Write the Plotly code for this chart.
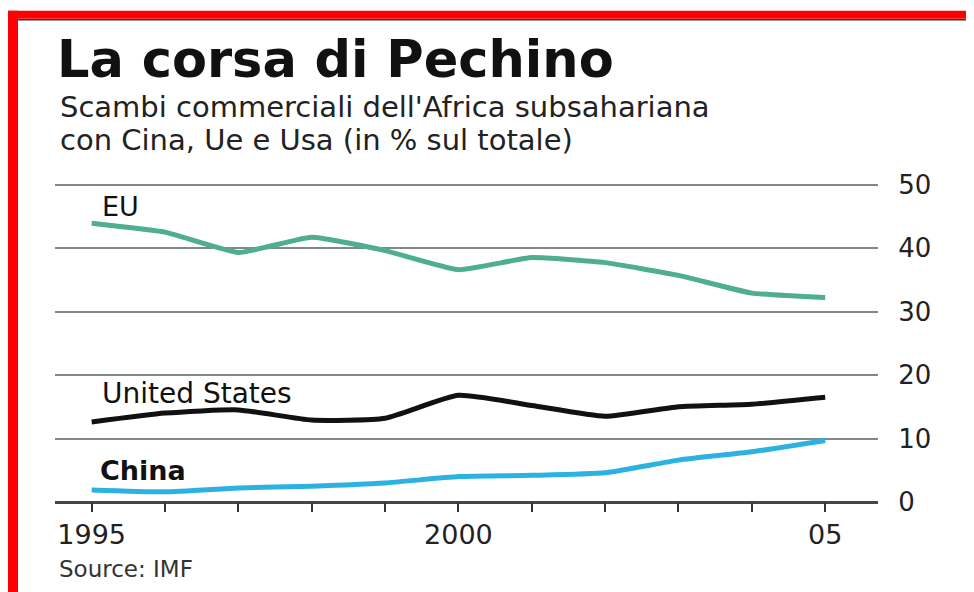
import plotly.graph_objects as go

years = [1995, 1996, 1997, 1998, 1999, 2000, 2001, 2002, 2003, 2004, 2005]
eu = [43.9, 42.5, 39.3, 41.7, 39.6, 36.6, 38.5, 37.7, 35.7, 32.9, 32.2]
usa = [12.6, 14.0, 14.5, 12.9, 13.2, 16.8, 15.2, 13.5, 15.0, 15.4, 16.5]
china = [1.9, 1.6, 2.2, 2.5, 3.0, 4.0, 4.2, 4.6, 6.6, 7.9, 9.7]
x_ticktext = ["1995", "", "", "", "", "2000", "", "", "", "", "05"]
y_ticks = [0, 10, 20, 30, 40, 50]

OFF = 8  # page body margin
W, H = 974 - OFF, 592 - OFF
# plot area in screen pixels
SL, SR, ST, SB = 55, 878, 181.5, 502
L, R, T, B = SL - OFF, SR - OFF, ST - OFF, SB - OFF

def px(x):
    return (x - OFF - L) / (R - L)

def py(y):
    return (B - (y - OFF)) / (B - T)

fig = go.Figure()
fig.add_trace(go.Scatter(x=years, y=eu, mode="lines",
                         line=dict(color="#4fae8e", width=5, shape="spline", smoothing=0.4),
                         hoverinfo="skip"))
fig.add_trace(go.Scatter(x=years, y=usa, mode="lines",
                         line=dict(color="#111111", width=5, shape="spline", smoothing=0.5),
                         hoverinfo="skip"))
fig.add_trace(go.Scatter(x=years, y=china, mode="lines",
                         line=dict(color="#2cb2e2", width=5, shape="spline", smoothing=0.5),
                         hoverinfo="skip"))

shapes = [
    dict(type="rect", xref="paper", yref="paper", x0=px(0), x1=px(990), y0=py(18), y1=py(10),
         fillcolor="#ff0000", line=dict(width=0), layer="above"),
    dict(type="line", xref="paper", yref="paper", x0=px(18), x1=px(990), y0=py(19), y1=py(19),
         line=dict(color="#333333", width=1.5), layer="above"),
    dict(type="rect", xref="paper", yref="paper", x0=px(0), x1=px(18), y0=py(600), y1=py(10),
         fillcolor="#ff0000", line=dict(width=0), layer="above"),
]

annotations = [
    dict(text="<b>La corsa di Pechino</b>", xref="paper", yref="paper", x=px(55), y=py(59),
         xanchor="left", yanchor="middle", showarrow=False,
         font=dict(family="DejaVu Sans", size=51, color="#111111")),
    dict(text="Scambi commerciali dell'Africa subsahariana", xref="paper", yref="paper",
         x=px(58), y=py(106), xanchor="left", yanchor="middle", showarrow=False,
         font=dict(family="DejaVu Sans", size=29, color="#222222")),
    dict(text="con Cina, Ue e Usa (in % sul totale)", xref="paper", yref="paper",
         x=px(58), y=py(139), xanchor="left", yanchor="middle", showarrow=False,
         font=dict(family="DejaVu Sans", size=29, color="#222222")),
    dict(text="EU", x=1995.11, y=46.5, xanchor="left", yanchor="middle", showarrow=False,
         font=dict(family="DejaVu Sans", size=27, color="#111111")),
    dict(text="United States", x=1995.11, y=17.1, xanchor="left", yanchor="middle", showarrow=False,
         font=dict(family="DejaVu Sans", size=28, color="#111111")),
    dict(text="<b>China</b>", x=1995.08, y=5.0, xanchor="left", yanchor="middle", showarrow=False,
         font=dict(family="DejaVu Sans", size=27, color="#111111")),
    dict(text="Source: IMF", xref="paper", yref="paper", x=px(57), y=py(569),
         xanchor="left", yanchor="middle", showarrow=False,
         font=dict(family="DejaVu Sans", size=23, color="#333333")),
]

fig.update_layout(
    width=W, height=H,
    margin=dict(l=L, r=W - R, t=T, b=H - B),
    paper_bgcolor="white", plot_bgcolor="white",
    showlegend=False,
    shapes=shapes,
    annotations=annotations,
    xaxis=dict(range=[1994.5, 2005.72], tickvals=years, ticktext=x_ticktext,
               ticks="outside", ticklen=9, tickwidth=2, tickcolor="#333333",
               showgrid=False, zeroline=False, showline=False,
               tickfont=dict(family="DejaVu Sans", size=27, color="#222222"),
               fixedrange=True),
    yaxis=dict(range=[0, 50.4], tickvals=y_ticks, side="right",
               showgrid=True, gridcolor="#7d8a86", gridwidth=2,
               zeroline=True, zerolinecolor="#3d4a48", zerolinewidth=2.5,
               showline=False, ticks="outside", ticklen=14, tickcolor="rgba(0,0,0,0)",
               tickfont=dict(family="DejaVu Sans", size=26, color="#222222"),
               fixedrange=True),
)

fig.write_html("out.html")
